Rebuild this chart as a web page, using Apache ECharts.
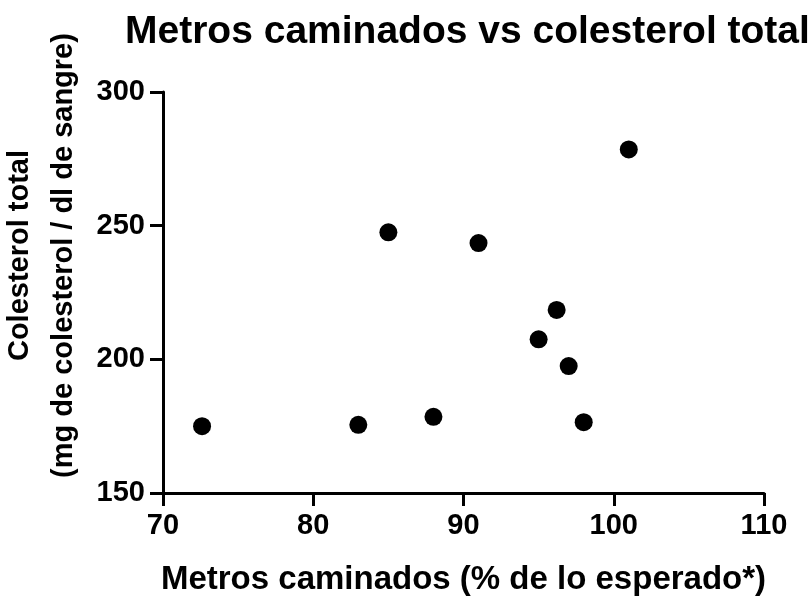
<!DOCTYPE html>
<html>
<head>
<meta charset="utf-8">
<script src="https://cdn.jsdelivr.net/npm/echarts@6/dist/echarts.min.js"></script>
<style>
  html, body { margin: 0; padding: 0; background: #fff; }
  #main { width: 808px; height: 602px; }
</style>
</head>
<body>
<div id="main"></div>
<script>
// metros caminados (% de lo esperado) y colesterol total
const metros = [72.6, 83, 85, 88, 91, 95, 96.2, 97, 98, 101]
const colesterol = [175, 175.5, 247.5, 178.5, 243.5, 207.5, 218.5, 197.5, 176.5, 278.5]
const xTicks = [70, 80, 90, 100, 110]
const yTicks = [150, 200, 250, 300]

const points = metros.map((m, i) => [m, colesterol[i]])

const myChart = echarts.init(document.getElementById('main'))
const font = 'Liberation Sans, Arial, sans-serif'
const axisLine = { show: true, lineStyle: { color: '#000', width: 3 } }
const axisTick = { show: true, length: 13, lineStyle: { color: '#000', width: 3 } }

const option = {
  animation: false,
  backgroundColor: '#fff',
  title: {
    text: 'Metros caminados vs colesterol total',
    left: 120,
    top: 8,
    textStyle: { fontFamily: font, fontSize: 39, fontWeight: 'bold', color: '#000' }
  },
  grid: { left: 163, right: 44, top: 92, bottom: 109, outerBoundsMode: 'none', containLabel: false },
  xAxis: {
    type: 'value',
    min: xTicks[0],
    max: xTicks[xTicks.length - 1],
    interval: 10,
    name: 'Metros caminados (% de lo esperado*)',
    nameLocation: 'middle',
    nameGap: 70,
    nameTextStyle: { fontFamily: font, fontSize: 33, fontWeight: 'bold', color: '#000' },
    axisLine: axisLine,
    axisTick: axisTick,
    splitLine: { show: false },
    axisLabel: { margin: 18, fontFamily: font, fontSize: 29, fontWeight: 'bold', color: '#000' }
  },
  yAxis: {
    type: 'value',
    min: yTicks[0],
    max: yTicks[yTicks.length - 1],
    interval: 50,
    name: 'Colesterol total\n(mg de colesterol / dl de sangre)',
    nameLocation: 'middle',
    nameRotate: 90,
    nameGap: 73,
    nameTextStyle: { fontFamily: font, fontSize: 29, fontWeight: 'bold', color: '#000', lineHeight: 44, padding: [0, 0, 0, 74] },
    axisLine: axisLine,
    axisTick: axisTick,
    splitLine: { show: false },
    axisLabel: { margin: 18, fontFamily: font, fontSize: 29, fontWeight: 'bold', color: '#000' }
  },
  series: [
    {
      type: 'scatter',
      data: points,
      symbol: 'circle',
      symbolSize: 18,
      itemStyle: { color: '#000', opacity: 1 }
    }
  ]
}
myChart.setOption(option)
</script>
</body>
</html>
